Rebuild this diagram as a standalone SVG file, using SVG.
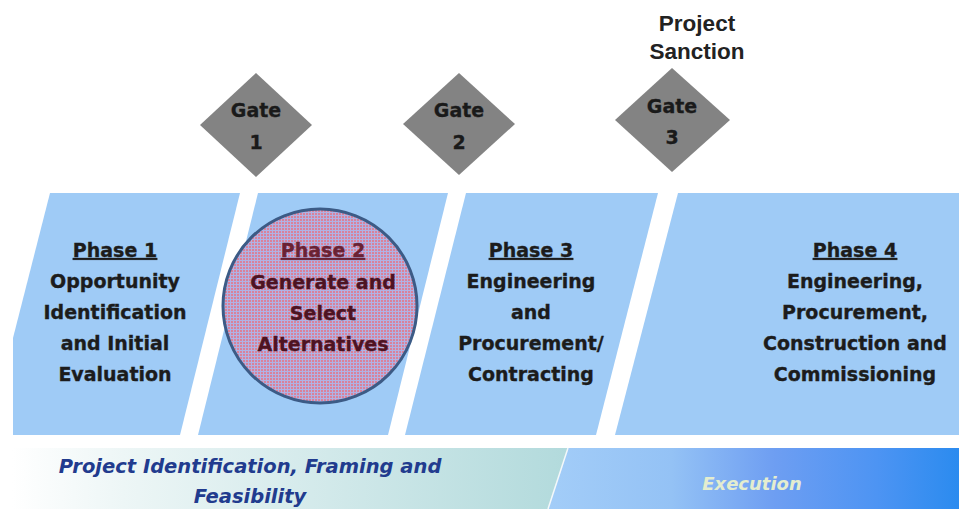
<svg xmlns="http://www.w3.org/2000/svg" width="959" height="509" viewBox="0 0 959 509">
<style>
.phase{fill:#9fcbf6}
.pt{font-family:"DejaVu Sans",sans-serif;font-weight:bold;font-size:19px;fill:#1c1c1c;stroke:#1c1c1c;stroke-width:0.35;text-anchor:middle}
.ph{text-decoration:underline}
.gate{fill:#838383}
.gt{font-family:"DejaVu Sans",sans-serif;font-weight:bold;font-size:19px;fill:#1a1a1a;stroke:#1a1a1a;stroke-width:0.3;text-anchor:middle}
.st{font-family:"Liberation Sans",Arial,sans-serif;font-weight:bold;font-size:22.5px;fill:#222;text-anchor:middle}
.bt{font-family:"DejaVu Sans",sans-serif;font-weight:bold;font-style:italic;font-size:19.5px;fill:#213b8e;text-anchor:middle}
.et{font-family:"DejaVu Sans",sans-serif;font-weight:bold;font-style:italic;font-size:18px;fill:#e4edcf;text-anchor:middle}
.p2{fill:#4e1322;stroke:#4e1322}
</style>
<defs>
<linearGradient id="gl" x1="0" y1="0" x2="1" y2="0">
<stop offset="0" stop-color="#ffffff"/>
<stop offset="0.2" stop-color="#edf6f6"/>
<stop offset="1" stop-color="#b2dadc"/>
</linearGradient>
<linearGradient id="gr" x1="0" y1="0" x2="1" y2="0">
<stop offset="0" stop-color="#a3cdf8"/>
<stop offset="0.3" stop-color="#94c2f5"/>
<stop offset="0.55" stop-color="#6e9ef2"/>
<stop offset="0.8" stop-color="#4d94f3"/>
<stop offset="1" stop-color="#2b8bef"/>
</linearGradient>
<pattern id="dots" width="3" height="3" patternUnits="userSpaceOnUse">
<rect width="3" height="3" fill="#b0b2e4"/>
<rect x="0" y="0" width="2" height="2" fill="#d9829a"/>
</pattern>
</defs>
<rect width="959" height="509" fill="#ffffff"/>

<g id="band-left">
<polygon points="12,448 568,448 548,509 12,509" fill="url(#gl)"/>
<text class="bt" x="250" y="473">Project Identification, Framing and</text>
<text class="bt" x="250" y="503">Feasibility</text>
</g>
<g id="band-right">
<polygon points="568,448 959,448 959,509 548,509" fill="url(#gr)"/>
<line x1="568" y1="448" x2="548" y2="509" stroke="#f4f8fa" stroke-width="1.5"/>
<text class="et" x="752" y="490">Execution</text>
</g>

<g id="phase1">
<polygon class="phase" points="50,193 240,193 180,435 13,435 13,338"/>
<text class="pt ph" x="115" y="257">Phase 1</text>
<text class="pt" x="115" y="288">Opportunity</text>
<text class="pt" x="115" y="319">Identification</text>
<text class="pt" x="115" y="350">and Initial</text>
<text class="pt" x="115" y="381">Evaluation</text>
</g>

<g id="phase2">
<polygon class="phase" points="258,193 448,193 388,435 198,435"/>
<circle cx="320" cy="306" r="97" fill="url(#dots)" stroke="#3c5b86" stroke-width="3"/>
<text class="pt ph p2" x="323" y="257" style="fill:#6a2234;stroke:#6a2234">Phase 2</text>
<text class="pt p2" x="323" y="289">Generate and</text>
<text class="pt p2" x="323" y="320">Select</text>
<text class="pt p2" x="323" y="351">Alternatives</text>
</g>

<g id="phase3">
<polygon class="phase" points="466,193 658,193 596,435 405,435"/>
<text class="pt ph" x="531" y="257">Phase 3</text>
<text class="pt" x="531" y="288">Engineering</text>
<text class="pt" x="531" y="319">and</text>
<text class="pt" x="531" y="350">Procurement/</text>
<text class="pt" x="531" y="381">Contracting</text>
</g>

<g id="phase4">
<polygon class="phase" points="678,193 959,193 959,435 615,435"/>
<text class="pt ph" x="855" y="257">Phase 4</text>
<text class="pt" x="855" y="288">Engineering,</text>
<text class="pt" x="855" y="319">Procurement,</text>
<text class="pt" x="855" y="350">Construction and</text>
<text class="pt" x="855" y="381">Commissioning</text>
</g>

<g id="gate1">
<polygon class="gate" points="256,73 312,125 256,177 200,125"/>
<text class="gt" x="256" y="117">Gate</text>
<text class="gt" x="256" y="149">1</text>
</g>
<g id="gate2">
<polygon class="gate" points="459,73 515,124 459,175 403,124"/>
<text class="gt" x="459" y="117">Gate</text>
<text class="gt" x="459" y="149">2</text>
</g>
<g id="gate3">
<polygon class="gate" points="672,68 730,120 672,172 615,120"/>
<text class="gt" x="672" y="113">Gate</text>
<text class="gt" x="672" y="144">3</text>
</g>
<g id="sanction">
<text class="st" x="697" y="31">Project</text>
<text class="st" x="697" y="59">Sanction</text>
</g>
<g id="connectors"/>
</svg>
